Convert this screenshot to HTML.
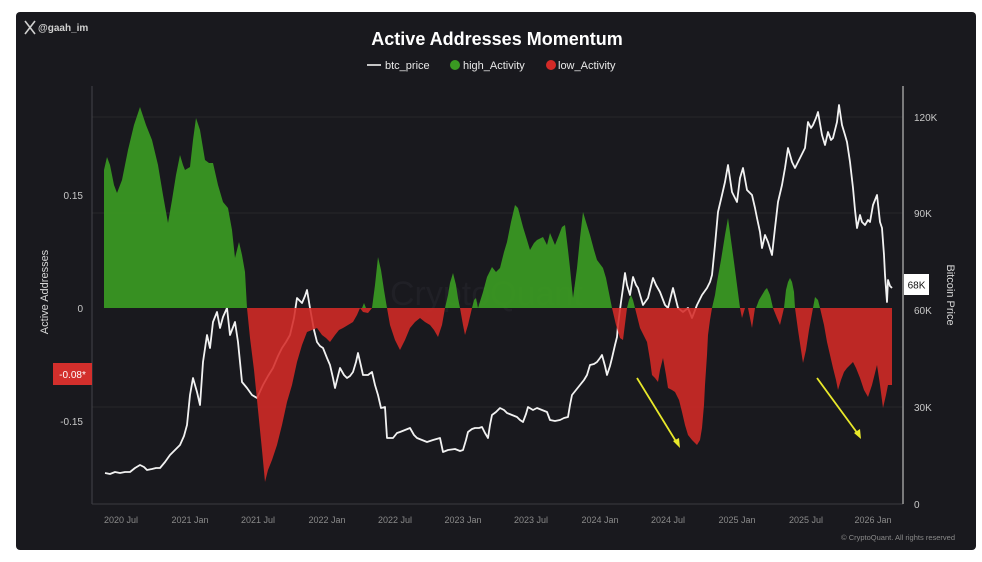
<!DOCTYPE html>
<html><head><meta charset="utf-8"><style>
html,body{margin:0;padding:0;background:#fff;}
body{width:982px;height:562px;overflow:hidden;}
svg{display:block;font-family:"Liberation Sans",sans-serif;}
</style></head><body>
<svg width="982" height="562" viewBox="0 0 982 562" xmlns="http://www.w3.org/2000/svg">
<rect x="0" y="0" width="982" height="562" fill="#ffffff"/>
<rect x="16" y="12" width="960" height="538" rx="4" fill="#19191e"/>

<!-- watermark top-left -->
<g stroke="#cfcfcf" stroke-width="1.6">
<line x1="25" y1="21" x2="35" y2="34"/><line x1="35" y1="21" x2="25" y2="34"/>
</g>
<text x="38" y="31" font-size="10" font-weight="bold" fill="#d0d0d0">@gaah_im</text>

<!-- title & legend -->
<text x="497" y="45" text-anchor="middle" font-size="18" font-weight="bold" fill="#ffffff">Active Addresses Momentum</text>
<line x1="367" y1="65" x2="381" y2="65" stroke="#fff" stroke-width="1.5"/>
<text x="385" y="69" font-size="11" fill="#e8e8e8">btc_price</text>
<circle cx="455" cy="65" r="5" fill="#3a9a22"/>
<text x="463" y="69" font-size="11" fill="#e8e8e8">high_Activity</text>
<circle cx="551" cy="65" r="5" fill="#d32a27"/>
<text x="558" y="69" font-size="11" fill="#e8e8e8">low_Activity</text>

<!-- grid -->
<g stroke="#26262b" stroke-width="1">
<line x1="92" y1="117" x2="903" y2="117"/>
<line x1="92" y1="213" x2="903" y2="213"/>
<line x1="92" y1="407" x2="903" y2="407"/>
</g>

<!-- faint watermark -->
<text x="390" y="305" font-size="34" fill="#202026">CryptoQuant</text>

<!-- axes -->
<line x1="92" y1="86" x2="92" y2="504" stroke="#444449" stroke-width="1"/>
<line x1="92" y1="504" x2="903" y2="504" stroke="#3a3a40" stroke-width="1"/>
<line x1="903" y1="86" x2="903" y2="504" stroke="#9a9a9a" stroke-width="1.5"/>

<!-- price line (beneath areas) -->
<polyline fill="none" stroke="#f2f2f2" stroke-width="1.8" stroke-linejoin="round" points="
105,473 110,474 115,472 120,473 125,472 130,472 135,468 140,465 144,467 147,470 152,469 156,468 160,468 165,462 170,455 175,450 180,445 184,436 187,425 190,395 193,378 197,392 200,405 203,362 207,335 210,348 213,322 217,312 220,328 223,317 227,308 230,335 235,322 238,342 242,382 247,388 252,395 257,398 263,385 268,376 273,368 278,356 282,348 286,342 290,335 294,318 297,298 302,303 305,296 307,290 310,308 314,330 317,342 320,346 323,348 327,358 330,365 333,378 335,388 338,376 340,368 344,375 347,378 350,376 353,372 356,362 358,353 361,366 363,375 368,375 
372,372 375,385 378,395 381,408 385,407 387,438 390,438 393,438 397,433 400,432 405,430 410,428 414,435 417,438 422,440 427,442 433,440 440,438 443,452 448,450 455,449 460,451 463,450 466,440 468,432 472,429 475,428 479,428 482,427 485,433 488,438 490,425 492,415 496,412 500,408 504,410 507,413 512,415 517,417 520,420 523,422 526,414 528,407 533,410 537,408 542,410 547,412 550,420 555,421 560,420 564,418 568,417 570,405 572,395 576,390 580,385 584,380 587,375 590,365 594,364 597,362 600,358 602,355 605,366 607,375 610,366 612,358 615,345 617,337 618,325 621,302 623,288 625,273 627,285 630,295 633,277 636,285 638,288 
643,305 648,298 653,278 656,285 660,292 665,305 668,308 673,288 676,300 678,308 683,312 688,308 692,318 697,305 702,295 707,288 710,282 712,275 715,245 718,212 722,195 725,182 728,165 732,192 735,198 737,202 740,178 743,168 747,190 750,193 752,195 755,208 757,218 760,232 762,248 765,235 768,242 772,255 775,228 778,202 782,185 785,168 788,148 792,162 795,168 798,162 800,158 803,152 805,148 808,122 811,128 813,125 816,118 818,112 822,135 825,145 828,132 831,140 833,138 837,122 839,105 842,125 845,135 847,142 850,162 853,188 855,210 857,228 860,215 862,222 865,225 868,220 870,222 873,205 875,200 877,195 880,222 882,228 884,255 885,275 887,302 888,280 890,286 892,288"/>

<!-- green areas -->
<g fill="#3a9a22" fill-opacity="0.93">
<polygon points="104,308 104,170 107,157 110,165 114,185 117,193 122,180 128,150 134,125 140,107 146,125 152,140 158,165 163,195 168,223 172,200 176,175 180,155 183,165 185,170 190,167 193,140 196,118 200,130 205,160 209,163 213,163 218,185 223,202 228,208 232,230 235,258 239,242 242,255 245,272 247,308"/>
<polygon points="362,308 364,303 366,308"/>
<polygon points="372,308 375,285 378,257 381,270 384,290 387,308"/>
<polygon points="445,308 448,295 450,283 453,273 456,285 458,298 460,308"/>
<polygon points="472,308 474,300 476,298 478,308"/>
<polygon points="478,308 483,292 487,277 492,267 496,272 500,268 504,252 507,242 511,222 515,205 518,208 523,227 527,240 530,250 534,243 537,240 543,237 547,245 550,233 555,245 559,235 562,227 565,225 568,250 570,268 573,298 577,268 580,238 583,212 586,222 590,235 594,250 597,260 603,268 606,278 608,288 612,308"/>
<polygon points="627,308 629,300 631,295 633,300 635,308"/>
<polygon points="712,308 715,295 717,282 721,260 725,235 728,218 731,240 734,262 737,285 740,308"/>
<polygon points="756,308 759,300 762,295 765,290 767,288 770,295 773,308"/>
<polygon points="784,308 786,290 788,282 790,278 792,282 794,292 795,308"/>
<polygon points="813,308 815,297 818,300 820,308"/>
</g>

<!-- red areas -->
<g fill="#d42a27" fill-opacity="0.88">
<polygon points="247,308 250,338 254,370 258,410 262,450 265,482 268,470 272,460 277,445 282,425 287,402 292,385 297,362 302,345 307,332 312,330 317,328 322,335 326,338 330,342 335,335 339,330 343,328 348,325 353,322 357,315 360,308"/>
<polygon points="360,308 363,312 368,313 372,308"/>
<polygon points="387,308 390,325 395,340 400,350 405,340 410,328 415,322 420,318 425,322 430,325 434,330 438,337 442,325 445,308"/>
<polygon points="460,308 463,325 465,335 468,325 472,308"/>
<polygon points="612,308 616,325 620,338 623,340 627,308"/>
<polygon points="635,308 640,328 644,336 647,342 650,360 652,375 655,378 658,382 660,370 663,358 666,375 668,388 672,390 675,392 679,400 682,412 685,425 688,435 692,440 697,445 700,440 702,428 704,405 705,385 707,355 708,335 710,320 712,308"/>
<polygon points="740,308 742,318 745,308"/>
<polygon points="748,308 752,328 755,308"/>
<polygon points="773,308 777,318 780,325 784,308"/>
<polygon points="795,308 798,330 801,350 803,363 806,350 809,330 813,308"/>
<polygon points="820,308 824,325 827,342 830,355 833,368 836,380 838,390 841,380 844,372 847,368 850,365 853,362 856,368 860,378 864,390 868,397 872,385 877,365 880,385 883,408 886,395 888,385 892,385 892,308"/>
</g>

<!-- yellow arrows -->
<g stroke="#e8e82a" stroke-width="1.8" fill="#e8e82a">
<line x1="637" y1="378" x2="677" y2="443"/>
<polygon points="680,448 673,441 679,438" stroke="none"/>
<line x1="817" y1="378" x2="858" y2="434"/>
<polygon points="861,439 854,433 860,429" stroke="none"/>
</g>

<!-- left axis labels -->
<g font-size="10" fill="#c8c8c8" text-anchor="end">
<text x="83" y="199">0.15</text>
<text x="83" y="312">0</text>
<text x="83" y="425">-0.15</text>
</g>
<rect x="53" y="363" width="39" height="22" fill="#d32f2c"/>
<text x="72.5" y="378" font-size="10" fill="#ffffff" text-anchor="middle">-0.08*</text>
<text transform="translate(48,292) rotate(-90)" font-size="11" fill="#d8d8d8" text-anchor="middle">Active Addresses</text>

<!-- right axis labels -->
<g font-size="10" fill="#c8c8c8">
<text x="914" y="121">120K</text>
<text x="914" y="217">90K</text>
<text x="914" y="314">60K</text>
<text x="914" y="411">30K</text>
<text x="914" y="508">0</text>
</g>
<rect x="904" y="274" width="25" height="21" fill="#ffffff"/>
<text x="916.5" y="288.5" font-size="10" fill="#111" text-anchor="middle">68K</text>
<text transform="translate(947,295) rotate(90)" font-size="11" fill="#d8d8d8" text-anchor="middle">Bitcoin Price</text>

<!-- x axis labels -->
<g font-size="9" fill="#8a8a8a" text-anchor="middle">
<text x="121" y="523">2020 Jul</text>
<text x="190" y="523">2021 Jan</text>
<text x="258" y="523">2021 Jul</text>
<text x="327" y="523">2022 Jan</text>
<text x="395" y="523">2022 Jul</text>
<text x="463" y="523">2023 Jan</text>
<text x="531" y="523">2023 Jul</text>
<text x="600" y="523">2024 Jan</text>
<text x="668" y="523">2024 Jul</text>
<text x="737" y="523">2025 Jan</text>
<text x="806" y="523">2025 Jul</text>
<text x="873" y="523">2026 Jan</text>
</g>
<text x="955" y="540" font-size="7.5" fill="#8a8a8a" text-anchor="end">© CryptoQuant. All rights reserved</text>
</svg>
</body></html>
